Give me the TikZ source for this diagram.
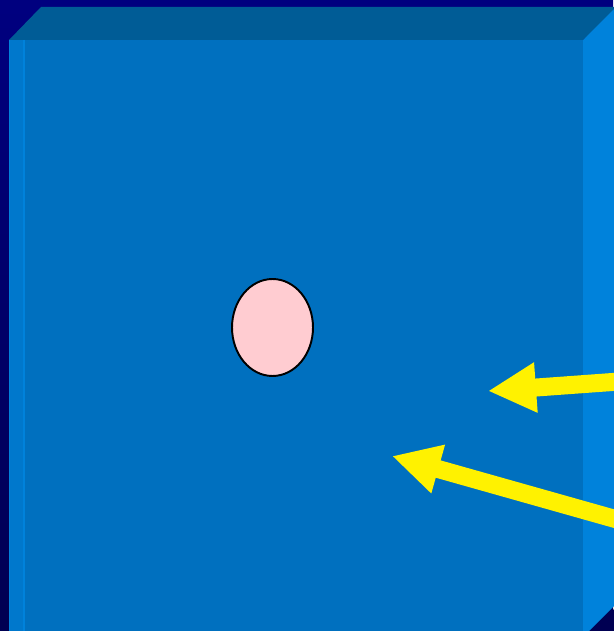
\documentclass[tikz,border=0pt]{standalone}
\usepackage{tikz}
\usetikzlibrary{arrows.meta,shapes.geometric}
\definecolor{navytop}{rgb}{0.00,0.00,0.50}
\definecolor{navybottom}{rgb}{0.00,0.00,0.32}
\definecolor{frontblue}{rgb}{0.00,0.44,0.75}
\definecolor{topblue}{rgb}{0.00,0.36,0.59}
\definecolor{sideblue}{rgb}{0.00,0.51,0.86}
\definecolor{stripblue}{rgb}{0.00,0.47,0.80}
\definecolor{pastelpink}{rgb}{1.00,0.80,0.82}
\tikzset{
  cara/.style={
    draw=none
  },
  celula/.style={
    ellipse,
    draw=black,
    line width=1.1pt,
    fill=pastelpink,
    inner sep=0pt,
    minimum width=1.62cm,
    minimum height=1.94cm
  },
  flecha/.style={
    -{Triangle[length=0.96cm,width=0.94cm]},
    line width=0.36cm,
    yellow
  }
}
\begin{document}
\begin{tikzpicture}[x=0.02cm,y=-0.02cm]
\useasboundingbox (0,0) rectangle (613,631);
\shade[top color=navytop,bottom color=navybottom] (0,0) rectangle (613,631);
% caja
\fill[cara,topblue] (9,40) -- (41,7) -- (620,7) -- (583,40) -- cycle;
\fill[cara,sideblue] (583,40) -- (620,3) -- (620,600) -- (583,637) -- cycle;
\fill[cara,frontblue] (9,40) rectangle (583,640);
\fill[cara,stripblue] (9,40) rectangle (24,640);
\draw[sideblue,line width=0.6pt] (24,40) -- (24,640);
\draw[sideblue,line width=0.6pt] (9.5,40) -- (9.5,640);
\fill[navybottom] (583,640) -- (625,598) -- (625,640) -- cycle;
% celula
\node[celula] (cel) at (272.5,327.5) {};
% flechas
\coordinate (p1) at (488,391);
\coordinate (q1) at (640,380);
\coordinate (p2) at (392,456);
\coordinate (q2) at (640,526);
\draw[flecha] (q1) -- (p1);
\draw[flecha] (q2) -- (p2);
\end{tikzpicture}
\end{document}
